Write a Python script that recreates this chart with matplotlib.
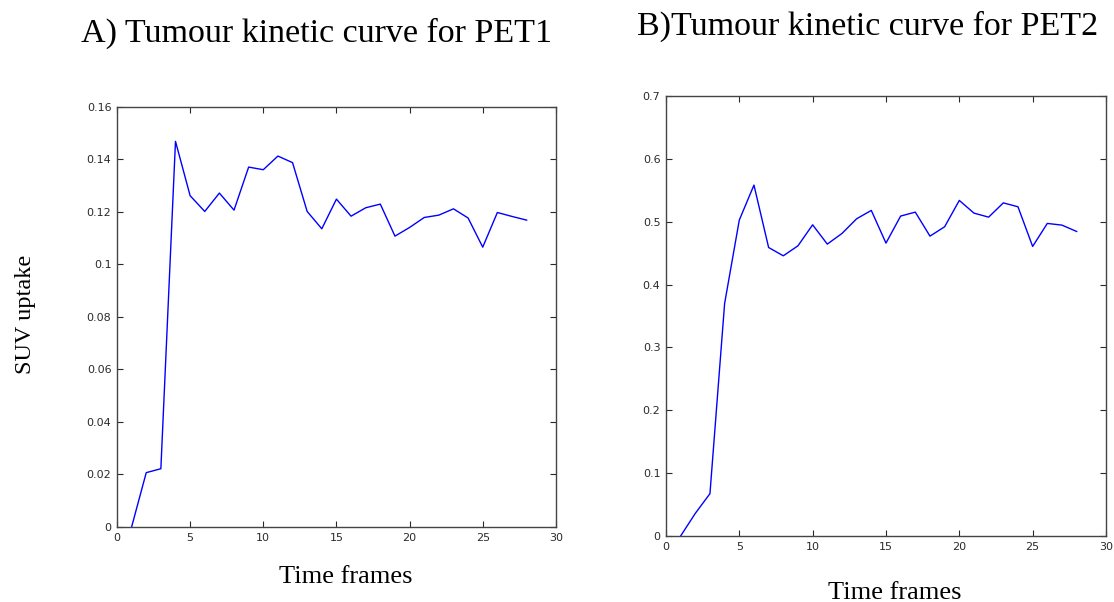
import matplotlib
matplotlib.use("Agg")
from matplotlib import pyplot as plt

frames = list(range(1, 29))

pet1_suv = [0.0, 0.0207, 0.0222, 0.1469, 0.1262, 0.1202, 0.1272, 0.1207,
            0.1371, 0.1361, 0.1413, 0.1388, 0.1202, 0.1136, 0.1249, 0.1184,
            0.1216, 0.1230, 0.1108, 0.1141, 0.1179, 0.1188, 0.1212, 0.1177,
            0.1066, 0.1198, 0.1183, 0.1169]

pet2_suv = [0.0, 0.036, 0.0674, 0.370, 0.5026, 0.5583, 0.459, 0.4458,
            0.4617, 0.4951, 0.4644, 0.4813, 0.5047, 0.518, 0.466, 0.509,
            0.5153, 0.4771, 0.492, 0.5339, 0.5137, 0.5073, 0.530, 0.5238,
            0.4607, 0.4973, 0.4946, 0.4845]

xticks = [0, 5, 10, 15, 20, 25, 30]
pet1_yticks = [0, 0.02, 0.04, 0.06, 0.08, 0.1, 0.12, 0.14, 0.16]
pet1_ylabels = ["0", "0.02", "0.04", "0.06", "0.08", "0.1", "0.12", "0.14", "0.16"]
pet2_yticks = [0, 0.1, 0.2, 0.3, 0.4, 0.5, 0.6, 0.7]
pet2_ylabels = ["0", "0.1", "0.2", "0.3", "0.4", "0.5", "0.6", "0.7"]

serif = "Liberation Serif"

fig = plt.figure(figsize=(11.14, 6.02), dpi=100)
ax1 = fig.add_axes([0.105, 0.1246, 0.394, 0.6977])
ax2 = fig.add_axes([0.5978, 0.1096, 0.395, 0.7309])


def style_axes(ax, yticks, ylabels, ymax):
    ax.set_xlim(0, 30)
    ax.set_ylim(0, ymax)
    ax.set_xticks(xticks)
    ax.set_xticklabels([str(t) for t in xticks])
    ax.set_yticks(yticks)
    ax.set_yticklabels(ylabels)
    ax.tick_params(direction="in", length=4, width=0.8, top=True, right=True,
                   labelsize=8, pad=4, colors="#2a2a2a")
    for sp in ax.spines.values():
        sp.set_color("#444444")
        sp.set_linewidth(1.0)


ax1.plot(frames, pet1_suv, color="#0000ff", lw=1.0)
style_axes(ax1, pet1_yticks, pet1_ylabels, 0.16)

ax2.plot(frames, pet2_suv, color="#0000ff", lw=1.0)
style_axes(ax2, pet2_yticks, pet2_ylabels, 0.7)

fig.text(0.284, 0.945, "A) Tumour kinetic curve for PET1", family=serif,
         fontsize=24.5, ha="center", va="center")
fig.text(0.779, 0.956, "B)Tumour kinetic curve for PET2", family=serif,
         fontsize=24.5, ha="center", va="center")

fig.text(0.023, 0.478, "SUV uptake", family=serif, fontsize=17.5,
         rotation=90, ha="center", va="center")
fig.text(0.310, 0.042, "Time frames", family=serif, fontsize=19,
         ha="center", va="center")
fig.text(0.803, 0.015, "Time frames", family=serif, fontsize=19,
         ha="center", va="center")

fig.savefig("out.png", dpi=100)
